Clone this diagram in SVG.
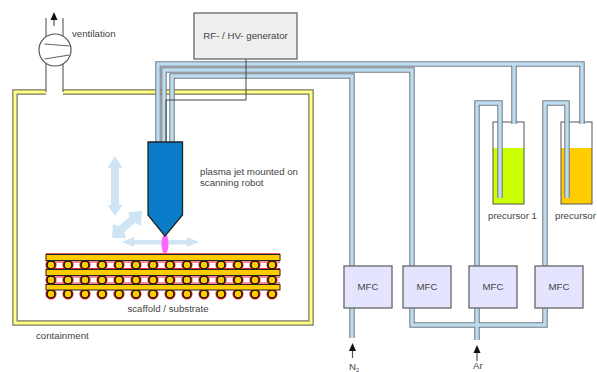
<svg xmlns="http://www.w3.org/2000/svg" xmlns:xlink="http://www.w3.org/1999/xlink" width="597" height="372" viewBox="0 0 597 372">
<style>
text{font-family:"Liberation Sans",Arial,sans-serif;font-size:9.7px;fill:#444}
.m{text-anchor:middle}
.po{fill:none;stroke:#747c82;stroke-width:5.5}
.pi{fill:none;stroke:#bddcf0;stroke-width:3.4}
.wo{fill:none;stroke:#77776a;stroke-width:5.5}
.wi{fill:none;stroke:#ffff80;stroke-width:3}
.l{fill:none;stroke:#666;stroke-width:1.2}
.w{fill:none;stroke:#444;stroke-width:1}
.mfc{fill:#e4e4ff;stroke:#666;stroke-width:1.3}
.bar{fill:#ffcc00;stroke:#222;stroke-width:1}
.rd{stroke:#e8202a;stroke-width:1.1;fill:none}
.halo{fill:#f03030}
.ball{fill:#ffcc00;stroke:#111;stroke-width:1.5}
.pale{fill:#cfe5f5}
.ar{stroke:#555;stroke-width:1.2;fill:none}
.ah{fill:#111}
</style>
<defs>
<g id="b"><circle class="halo" r="5.6"/><circle class="ball" r="4"/></g>
<g id="row"><use xlink:href="#b" x="51"/><use xlink:href="#b" x="68"/><use xlink:href="#b" x="85"/><use xlink:href="#b" x="102"/><use xlink:href="#b" x="119"/><use xlink:href="#b" x="136"/><use xlink:href="#b" x="153"/><use xlink:href="#b" x="170"/><use xlink:href="#b" x="187"/><use xlink:href="#b" x="204"/><use xlink:href="#b" x="221"/><use xlink:href="#b" x="238"/><use xlink:href="#b" x="255"/><use xlink:href="#b" x="272"/></g>
</defs>
<rect width="597" height="372" fill="#fff"/>
<g id="containment">
<path class="wo" d="M46 92H15V323H311V92H63"/>
<path class="wi" d="M46 92H15V323H311V92H63"/>
<text x="36" y="339">containment</text>
</g>
<g id="ventilation">
<path class="l" d="M46 18V37M63 18V37M46 63V92M63 63V92"/>
<circle cx="55" cy="50" r="16" fill="#fff" stroke="#555" stroke-width="1.2"/>
<path class="l" d="M44.500 44L69.500 46M44.500 59L69.500 55"/>
<path class="ar" d="M54 26V17"/><path class="ah" d="M54 12L57.500 20H50.500Z"/>
<text x="72" y="37">ventilation</text>
</g>
<g id="precursor-1">
<rect x="493" y="148" width="31" height="56" fill="#ccff00"/>
<rect x="493" y="122" width="31" height="82" fill="none" stroke="#555" stroke-width="1"/>
<text x="488" y="219">precursor 1</text>
</g>
<g id="precursor-2">
<rect x="561" y="148" width="31" height="56" fill="#ffcc00"/>
<rect x="561" y="122" width="31" height="82" fill="none" stroke="#555" stroke-width="1"/>
<text x="555" y="219">precursor</text>
</g>
<g id="connectors">
<path class="po" d="M158 142V64H582V124M514 64V124"/>
<path class="po" d="M164 142V70H412V266"/>
<path class="po" d="M172 142V76H352V266"/>
<path class="po" d="M477 266V103H500V198M545 266V103H567V198"/>
<path class="po" d="M352 308V338M477 308V340M412 308V325H545V308"/>
<path class="pi" d="M158 142V64H582V124M514 64V124"/>
<path class="pi" d="M164 142V70H412V266"/>
<path class="pi" d="M172 142V76H352V266"/>
<path class="pi" d="M477 266V103H500V198M545 266V103H567V198"/>
<path class="pi" d="M352 308V338M477 308V340M412 308V325H545V308"/>
<path class="w" d="M246 59V100H166V142"/>
<path class="ar" d="M352.500 358V348"/><path class="ah" d="M352.500 343L356 351H349Z"/>
<path class="ar" d="M477 361V350"/><path class="ah" d="M477 345L480.500 353H473.500Z"/>
</g>
<g id="generator">
<rect x="194" y="13" width="103" height="46" fill="#eee" stroke="#666" stroke-width="1.3"/>
<text class="m" x="245.500" y="39">RF- / HV- generator</text>
</g>
<g id="motion">
<path class="pale" d="M115 156L122.500 168H119V205H122.500L115 216L107.500 205H111V168H107.500Z"/>
<path class="pale" d="M142 211L141 226L135 222.700L124.300 232.300L126 238L112 238L113 224L118.900 226.300L129.700 216.700L128 212Z"/>
<path class="pale" d="M122 242L134 237V240H187V237L199 242L187 247V244.500H134V247Z"/>
</g>
<g id="plasma-jet">
<ellipse cx="165" cy="244" rx="3.500" ry="10" fill="#ff66ff"/>
<path d="M148 142H182.500V215L165 236L148 215Z" fill="#0a7cca" stroke="#222" stroke-width="1.300"/>
<text x="200" y="175">plasma jet mounted on</text>
<text x="200" y="186">scanning robot</text>
</g>
<g id="scaffold">
<path class="rd" d="M46 262H280M46 268.500H280M46 277H280M46 283H280"/>
<use xlink:href="#row" y="265"/>
<use xlink:href="#row" y="280"/>
<use xlink:href="#row" y="294"/>
<path d="M46 254H280" stroke="#e8202a" stroke-width="1.500"/>
<rect class="bar" x="46" y="254.500" width="234" height="6"/>
<rect class="bar" x="46" y="269.500" width="234" height="6"/>
<rect class="bar" x="46" y="284.500" width="234" height="5.500"/>
<text class="m" x="168" y="312">scaffold / substrate</text>
</g>
<g id="mfc-1"><rect class="mfc" x="344" y="266" width="48" height="42"/><text class="m" x="368" y="290">MFC</text></g>
<g id="mfc-2"><rect class="mfc" x="403" y="266" width="48" height="42"/><text class="m" x="427" y="290">MFC</text></g>
<g id="mfc-3"><rect class="mfc" x="469" y="266" width="48" height="42"/><text class="m" x="493" y="290">MFC</text></g>
<g id="mfc-4"><rect class="mfc" x="535" y="266" width="48" height="42"/><text class="m" x="559" y="290">MFC</text></g>
<g id="gases">
<text x="349" y="370">N<tspan font-size="5.500" dy="2">2</tspan></text>
<text x="473" y="369">Ar</text>
</g>
</svg>
